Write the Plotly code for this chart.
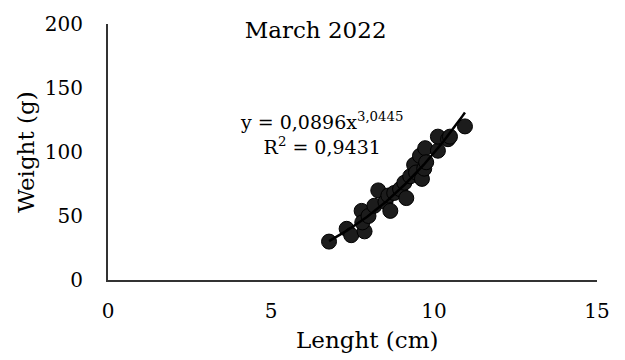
import numpy as np
import plotly.graph_objects as go

# Length (cm) and weight (g) of the sampled individuals
length_cm = [6.78, 7.32, 7.46, 7.78, 7.87, 7.80, 7.99, 8.17, 8.29, 8.51,
             8.66, 8.60, 8.78, 8.96, 9.15, 9.09, 9.27, 9.39, 9.45, 9.57,
             9.63, 9.70, 9.73, 9.76, 10.12, 10.12, 10.43, 10.49, 10.95]
weight_g = [30, 40, 35, 54, 38, 45, 50, 58, 70, 61,
            54, 66, 68, 71, 64, 76, 81, 90, 84, 97,
            79, 87, 103, 92, 101, 112, 110, 112, 120]

# Power-law fit W = a * L^b
fit_a = 0.0896
fit_b = 3.0445
fit_r2 = 0.9431

x_ticks = [0, 5, 10, 15]
y_ticks = [0, 50, 100, 150, 200]

FONT = "DejaVu Serif"

fit_x = np.linspace(min(length_cm), max(length_cm), 100)
fit_y = fit_a * fit_x ** fit_b

fig = go.Figure()
fig.add_trace(go.Scatter(
    x=length_cm, y=weight_g, mode="markers",
    marker=dict(size=15, color="#1c1c1c", line=dict(color="#000000", width=1)),
    showlegend=False,
))
fig.add_trace(go.Scatter(
    x=fit_x, y=fit_y, mode="lines",
    line=dict(color="#000000", width=2.5),
    showlegend=False,
))

def fmt(v, nd):
    return f"{v:.{nd}f}".replace(".", ",")

# Fit equation and coefficient of determination
fig.add_annotation(
    x=0.436, y=0.574, xref="paper", yref="paper",
    text=f"y = {fmt(fit_a, 4)}x<sup>{fmt(fit_b, 4)}</sup><br>R<sup>2</sup> = {fmt(fit_r2, 4)}",
    showarrow=False, align="center",
    font=dict(family=FONT, size=19, color="#000000"),
)

# Axis titles
fig.add_annotation(
    x=0.529, y=-0.235, xref="paper", yref="paper", yanchor="middle",
    text="Lenght (cm)", showarrow=False,
    font=dict(family=FONT, size=23, color="#000000"),
)
fig.add_annotation(
    x=-0.168, y=0.5, xref="paper", yref="paper", xanchor="center", yanchor="middle",
    text="Weight (g)", showarrow=False, textangle=-90,
    font=dict(family=FONT, size=23, color="#000000"),
)

fig.update_layout(
    width=625, height=360,
    margin=dict(l=108, r=28, t=19, b=80),
    paper_bgcolor="white", plot_bgcolor="white",
    title=dict(text="March 2022", x=0.505, xanchor="center", y=0.917, yanchor="middle",
               font=dict(family=FONT, size=23, color="#000000")),
    font=dict(family=FONT, color="#000000"),
    xaxis=dict(range=[0, 15], tickvals=x_ticks, showgrid=False, zeroline=False,
               showline=True, linecolor="#333333", linewidth=2,
               tickfont=dict(size=20), ticklabelstandoff=12),
    yaxis=dict(range=[0, 200], tickvals=y_ticks, showgrid=False, zeroline=False,
               showline=True, linecolor="#333333", linewidth=2,
               tickfont=dict(size=20), ticklabelstandoff=19),
)

fig.write_html("out.html")
